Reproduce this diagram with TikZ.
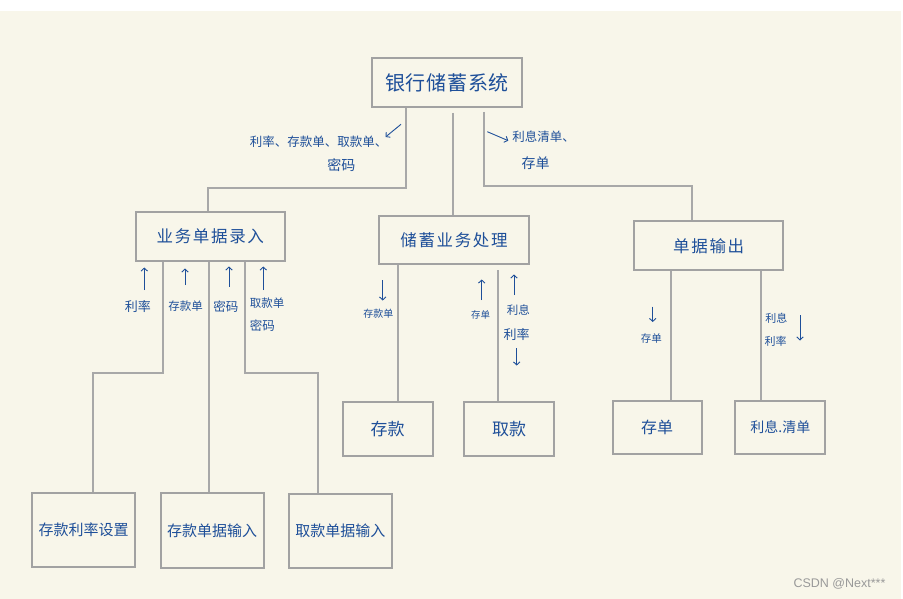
\documentclass[tikz,border=0pt]{standalone}
\usepackage{fontspec}
\newfontfamily\cjk{Noto Sans CJK SC}
\newfontfamily\wmfont{Liberation Sans}
\usetikzlibrary{arrows.meta}
\definecolor{cream}{HTML}{F8F6EA}
\definecolor{inkblue}{HTML}{1E4F99}
\definecolor{boxgray}{HTML}{A2A2A2}
\definecolor{linegray}{HTML}{A8A8A8}
\begin{document}
\begin{tikzpicture}[x=1pt,y=-1pt,
  box/.style={draw=boxgray,line width=2pt,fill=cream,inner sep=0pt,text=inkblue,font=\cjk},
  conn/.style={draw=linegray,line width=1.8pt},
  lbl/.style={text=inkblue,inner sep=0pt,align=center},
  arr/.style={draw=inkblue,line width=0.9pt,-{Straight Barb[length=3pt,width=6.5pt]}},
  big/.style={font=\cjk\fontsize{20}{22}\selectfont\addfontfeature{LetterSpace=4}},
  mid/.style={font=\cjk\fontsize{16.5}{18}\selectfont\addfontfeature{LetterSpace=10}},
  sml/.style={font=\cjk\fontsize{15}{17}\selectfont}]
\useasboundingbox (0,0) rectangle (903,599);
\fill[white] (0,0) rectangle (903,599);
\fill[cream] (0,11) rectangle (901,599);

% top
\node[box,big,minimum width=150pt,minimum height=49pt] (root) at (447,82.5) {银行储蓄系统};
% level 2
\node[box,mid,minimum width=149pt,minimum height=49pt] (inp) at (210.3,236.6) {业务单据录入};
\node[box,mid,minimum width=150pt,minimum height=48pt] (proc) at (454,240) {储蓄业务处理};
\node[box,mid,minimum width=149pt,minimum height=49pt,text depth=-6pt] (outp) at (708.7,245.3) {单据输出};
% level 3
\node[box,sml,font=\cjk\fontsize{17}{19}\selectfont,minimum width=90pt,minimum height=54pt] (ck) at (387.7,429) {存款};
\node[box,sml,font=\cjk\fontsize{17}{19}\selectfont,minimum width=90pt,minimum height=54pt] (qk) at (509.2,429) {取款};
\node[box,sml,font=\cjk\fontsize{16}{18}\selectfont,minimum width=89pt,minimum height=53pt] (cd) at (657,427) {存单};
\node[box,sml,font=\cjk\fontsize{14}{16}\selectfont,minimum width=90pt,minimum height=53pt] (lx) at (780.3,427) {利息.清单};
% level 4
\node[box,sml,minimum width=103pt,minimum height=74pt] (b1) at (83.7,530) {存款利率设置};
\node[box,sml,minimum width=103pt,minimum height=75pt] (b2) at (212,530.3) {存款单据输入};
\node[box,sml,minimum width=103pt,minimum height=74pt] (b3) at (340.3,530.8) {取款单据输入};

% connectors from root
\draw[conn] ([xshift=-41.3pt]root.south) -- ++(0,80) -| ([xshift=-2.3pt]inp.north);
\draw[conn] ([xshift=-1.3pt,yshift=102pt]proc.north) -- ([xshift=-1.3pt]proc.north);
\draw[conn] ([xshift=37.3pt,yshift=-4pt]root.south) -- ++(0,74) -| ([xshift=-17pt]outp.north);
% connectors from inp
\draw[conn] ([xshift=-47pt]inp.south) -- ++(0,111) -| ([xshift=9.3pt]b1.north);
\draw[conn] ([xshift=-1.3pt]inp.south) -- ([xshift=-3pt]b2.north);
\draw[conn] ([xshift=34.7pt]inp.south) -- ++(0,111) -| ([xshift=-22.6pt]b3.north);
% connectors from proc
\draw[conn] ([xshift=-56.3pt]proc.south) -- ([xshift=10pt]ck.north);
\draw[conn] ([xshift=44pt,yshift=-5pt]proc.south) -- ([xshift=-11.2pt]qk.north);
% connectors from outp
\draw[conn] ([xshift=-37.7pt]outp.south) -- ([xshift=14pt]cd.north);
\draw[conn] ([xshift=52.3pt]outp.south) -- ([xshift=-19.3pt]lx.north);

% labels under root
\node[lbl,font=\cjk\fontsize{12.5}{14}\selectfont] (l1) at (318.5,141.7) {利率、存款单、取款单、};
\node[lbl,font=\cjk\fontsize{14}{16}\selectfont] (l2) at (341.3,165) {密码};
\coordinate (a1s) at (401,124.3); \coordinate (a1e) at (385.5,137);
\draw[arr] (a1s) -- (a1e);
\coordinate (a2s) at (487.3,131.7); \coordinate (a2e) at (508.3,140.7);
\draw[arr] (a2s) -- (a2e);
\node[lbl,font=\cjk\fontsize{12.5}{14}\selectfont] (l3) at (543.5,136.7) {利息清单、};
\node[lbl,font=\cjk\fontsize{14}{16}\selectfont] (l4) at (535.5,163.3) {存单};

% labels under inp
\coordinate (b1s) at (144.3,290); \coordinate (b1e) at (144.3,267.5);
\draw[arr] (b1s) -- (b1e);
\node[lbl,font=\cjk\fontsize{13}{15}\selectfont] (m1) at (137.8,306.7) {利率};
\coordinate (b2s) at (185,285); \coordinate (b2e) at (185,268.5);
\draw[arr] (b2s) -- (b2e);
\node[lbl,font=\cjk\fontsize{11.5}{13}\selectfont] (m2) at (185.5,306) {存款单};
\coordinate (b3s) at (229,286.7); \coordinate (b3e) at (229,266.5);
\draw[arr] (b3s) -- (b3e);
\node[lbl,font=\cjk\fontsize{12.5}{14}\selectfont] (m3) at (225.8,306.7) {密码};
\coordinate (b4s) at (263.3,290); \coordinate (b4e) at (263.3,266.5);
\draw[arr] (b4s) -- (b4e);
\node[lbl,font=\cjk\fontsize{11.5}{13}\selectfont] (m4) at (267,303.3) {取款单};
\node[lbl,font=\cjk\fontsize{12.5}{14}\selectfont] (m5) at (262.3,326) {密码};

% labels under proc
\coordinate (c1s) at (382.7,280); \coordinate (c1e) at (382.7,300.5);
\draw[arr] (c1s) -- (c1e);
\node[lbl,font=\cjk\fontsize{10}{12}\selectfont] (p1) at (378.3,313.3) {存款单};
\coordinate (c2s) at (481.7,300); \coordinate (c2e) at (481.7,279.5);
\draw[arr] (c2s) -- (c2e);
\node[lbl,font=\cjk\fontsize{9.5}{11}\selectfont] (p2) at (480.5,315) {存单};
\coordinate (c3s) at (514,295); \coordinate (c3e) at (514,274.5);
\draw[arr] (c3s) -- (c3e);
\node[lbl,font=\cjk\fontsize{11.5}{13}\selectfont] (p3) at (518.3,310) {利息};
\node[lbl,font=\cjk\fontsize{13}{15}\selectfont] (p4) at (516.7,335) {利率};
\coordinate (c4s) at (516.7,348.3); \coordinate (c4e) at (516.7,365.5);
\draw[arr] (c4s) -- (c4e);

% labels under outp
\coordinate (d1s) at (652.7,306.7); \coordinate (d1e) at (652.7,322);
\draw[arr] (d1s) -- (d1e);
\node[lbl,font=\cjk\fontsize{10.5}{12}\selectfont] (o1) at (651.3,338.3) {存单};
\node[lbl,font=\cjk\fontsize{11}{13}\selectfont] (o2) at (776.3,318.3) {利息};
\node[lbl,font=\cjk\fontsize{11}{13}\selectfont] (o3) at (775.5,341.7) {利率};
\coordinate (d2s) at (800,315); \coordinate (d2e) at (800,340.5);
\draw[arr] (d2s) -- (d2e);

% watermark
\node[text=black!40,inner sep=0pt,font=\wmfont\fontsize{12.5}{14}\selectfont] (wm) at (839.5,584) {CSDN @Next***};
\end{tikzpicture}
\end{document}
